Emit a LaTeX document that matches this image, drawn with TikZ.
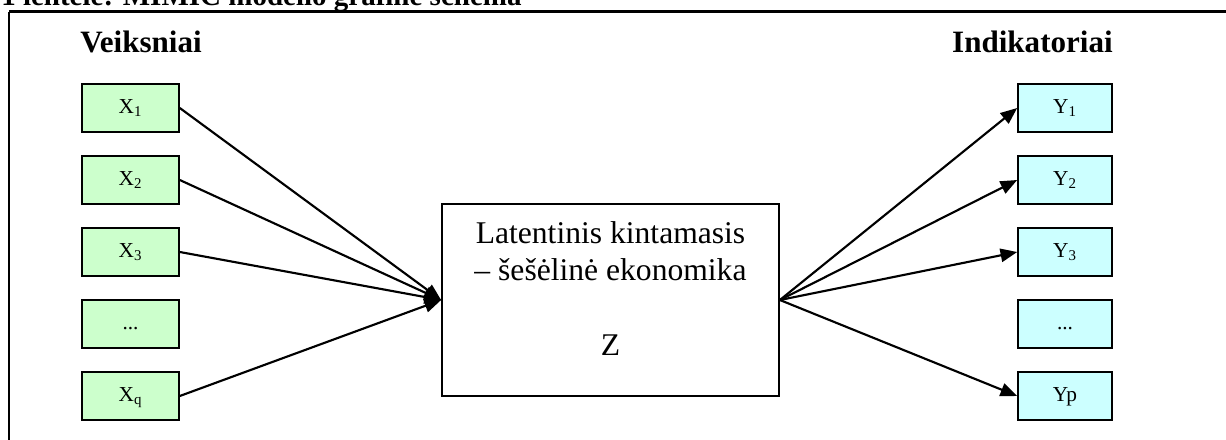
\documentclass[tikz,border=0pt]{standalone}
\usepackage{fontspec}
\setmainfont{Liberation Serif}
\usetikzlibrary{arrows.meta}

\definecolor{factorgreen}{HTML}{CCFFCC}
\definecolor{indicatorcyan}{HTML}{CCFFFF}

\tikzset{
  smallbox/.style={draw=black, line width=1.2pt, inner sep=0pt,
    minimum height=36pt, font=\fontsize{16}{18}\selectfont,
    text height=11pt, text depth=3pt},
  factorbox/.style={smallbox, fill=factorgreen, minimum width=72.75pt},
  indbox/.style={smallbox, fill=indicatorcyan, minimum width=70.5pt},
  latentbox/.style={draw=black, line width=1.3pt, fill=white,
    minimum width=252.75pt, minimum height=144pt, inner sep=0pt},
  bigtext/.style={anchor=base, inner sep=0pt, font=\fontsize{23.7}{27}\selectfont},
  heading/.style={anchor=base, inner sep=0pt, font=\fontsize{23.3}{28}\selectfont\bfseries},
  link/.style={line width=1.6pt, -{Triangle[length=12.5pt,width=10pt]}}
}

\begin{document}
\begin{tikzpicture}[x=0.75pt, y=-0.75pt]
  \useasboundingbox (0,0) rectangle (1226,439);
  \clip (0,0) rectangle (1226,439);

  % caption above the frame, partly cut off by the page edge
  \node[anchor=base west, inner sep=0pt, font=\fontsize{21.75}{26}\selectfont\bfseries]
    (caption) at (1,6) {1 lentelė: MIMIC modelio grafinė schema};

  % frame
  \draw[line width=2.25pt] (9,11.5) -- (1230,11.5);
  \draw[line width=1.5pt] (9,11.5) -- (9,445);

  % column headings
  \node[heading, anchor=base west] (hleft) at (80,52) {Veiksniai};
  \node[heading, anchor=base east] (hright) at (1113,52) {Indikatoriai};

  % factors
  \node[factorbox] (x1) at (130.5,108) {X\textsubscript{1}};
  \node[factorbox] (x2) at (130.5,180) {X\textsubscript{2}};
  \node[factorbox] (x3) at (130.5,252) {X\textsubscript{3}};
  \node[factorbox] (xd) at (130.5,324) {...};
  \node[factorbox] (xq) at (130.5,396) {X\textsubscript{q}};

  % indicators
  \node[indbox] (y1) at (1065,108) {Y\textsubscript{1}};
  \node[indbox] (y2) at (1065,180) {Y\textsubscript{2}};
  \node[indbox] (y3) at (1065,252) {Y\textsubscript{3}};
  \node[indbox] (yd) at (1065,324) {...};
  \node[indbox] (yp) at (1065,396) {Yp};

  % latent variable
  \node[latentbox] (z) at (610.5,300) {};
  \node[bigtext] (zl1) at (610.5,243) {Latentinis kintamasis};
  \node[bigtext] (zl2) at (610.5,280) {– šešėlinė ekonomika};
  \node[bigtext] (zl3) at (610.5,355) {Z};

  % causes
  \foreach \n in {x1,x2,x3,xq}
    \draw[link] (\n.east) -- (z.west);
  % effects
  \foreach \n in {y1,y2,y3,yp}
    \draw[link] (z.east) -- (\n.west);
\end{tikzpicture}
\end{document}
